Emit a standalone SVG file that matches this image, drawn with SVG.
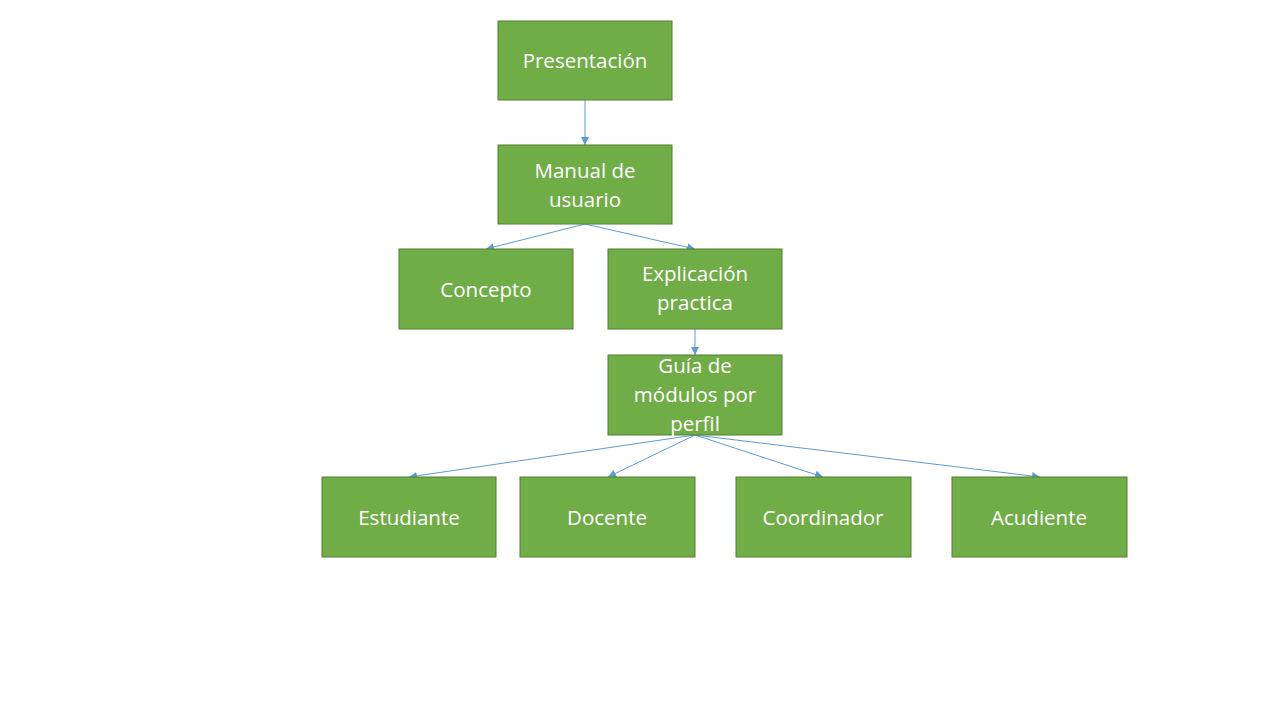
<svg xmlns="http://www.w3.org/2000/svg" width="1280" height="720" viewBox="0 0 1280 720">
<defs>
<style>
.box{fill:#70AD47;stroke:#507E32;stroke-width:1}
.t{font-family:"Open Sans","Noto Sans",sans-serif;font-size:20.5px;fill:#FFFFFF;text-anchor:middle}
.c{stroke:#5B9BD5;stroke-width:1;fill:none;marker-end:url(#ah)}
</style>
<marker id="ah" viewBox="0 0 10 10" refX="10" refY="5" markerWidth="8" markerHeight="8" markerUnits="userSpaceOnUse" orient="auto">
<path d="M0,0 L10,5 L0,10 z" fill="#5B9BD5"/>
</marker>
</defs>
<rect width="1280" height="720" fill="#FFFFFF"/>
<g id="connectors">
<line class="c" x1="585" y1="100" x2="585" y2="145"/>
<line class="c" x1="585" y1="224" x2="486" y2="249"/>
<line class="c" x1="585" y1="224" x2="695" y2="249"/>
<line class="c" x1="695" y1="329" x2="695" y2="355"/>
<line class="c" x1="695" y1="435" x2="409" y2="477"/>
<line class="c" x1="695" y1="435" x2="608" y2="477"/>
<line class="c" x1="695" y1="435" x2="823" y2="477"/>
<line class="c" x1="695" y1="435" x2="1040" y2="477"/>
</g>
<g id="presentacion">
<rect class="box" x="498" y="21" width="174" height="79"/>
<text class="t" x="585" y="68">Presentación</text>
</g>
<g id="manual">
<rect class="box" x="498" y="145" width="174" height="79"/>
<text class="t" x="585" y="178">Manual de</text>
<text class="t" x="585" y="207">usuario</text>
</g>
<g id="concepto">
<rect class="box" x="399" y="249" width="174" height="80"/>
<text class="t" x="486" y="297">Concepto</text>
</g>
<g id="explicacion">
<rect class="box" x="608" y="249" width="174" height="80"/>
<text class="t" x="695" y="281">Explicación</text>
<text class="t" x="695" y="310">practica</text>
</g>
<g id="guia">
<rect class="box" x="608" y="355" width="174" height="80"/>
<text class="t" x="695" y="373">Guía de</text>
<text class="t" x="695" y="402">módulos por</text>
<text class="t" x="695" y="431">perfil</text>
</g>
<g id="estudiante">
<rect class="box" x="322" y="477" width="174" height="80"/>
<text class="t" x="409" y="525">Estudiante</text>
</g>
<g id="docente">
<rect class="box" x="520" y="477" width="175" height="80"/>
<text class="t" x="607" y="525">Docente</text>
</g>
<g id="coordinador">
<rect class="box" x="736" y="477" width="175" height="80"/>
<text class="t" x="823" y="525">Coordinador</text>
</g>
<g id="acudiente">
<rect class="box" x="952" y="477" width="175" height="80"/>
<text class="t" x="1039" y="525">Acudiente</text>
</g>
</svg>
